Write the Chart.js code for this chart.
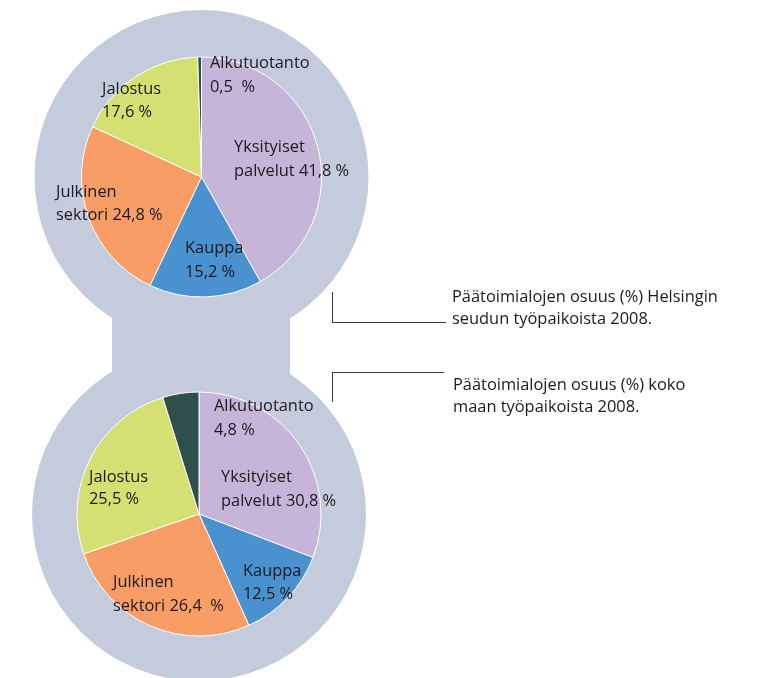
<!DOCTYPE html>
<html lang="fi">
<head>
<meta charset="utf-8">
<title>Päätoimialojen osuus työpaikoista 2008</title>
<script src="https://cdn.jsdelivr.net/npm/chart.js@4.4.1/dist/chart.umd.min.js"></script>
<style>
  html, body { margin: 0; padding: 0; background: #fff; }
  #wrap { position: relative; width: 757px; height: 678px; overflow: hidden; font-family: "Open Sans", sans-serif; color: #1d1a1b; }
  #wrap canvas { position: absolute; left: 0; top: 0; }
  .caption { position: absolute; font-size: 16.4px; line-height: 22px; white-space: nowrap; }
  .ln { position: absolute; background: #3c3c3c; }
</style>
</head>
<body>
<div id="wrap">
  <canvas id="pie-helsinki" width="757" height="678"></canvas>
  <canvas id="pie-finland" width="757" height="678"></canvas>
  <div class="ln" style="left:332px; top:292px; width:1px; height:31px;"></div>
  <div class="ln" style="left:332px; top:322px; width:114px; height:1px;"></div>
  <div class="caption" id="cap-helsinki" style="left:452px; top:285px;"></div>
  <div class="ln" style="left:332px; top:372px; width:112px; height:1px;"></div>
  <div class="ln" style="left:332px; top:372px; width:1px; height:30px;"></div>
  <div class="caption" id="cap-finland" style="left:453px; top:373px;"></div>
</div>
<script>
// data
const categories = ["Yksityiset palvelut", "Kauppa", "Julkinen sektori", "Jalostus", "Alkutuotanto"];
const helsinkiShares = [41.8, 15.2, 24.8, 17.6, 0.5];
const finlandShares = [30.8, 12.5, 26.4, 25.5, 4.8];
const captionHelsinki = ["Päätoimialojen osuus (%) Helsingin", "seudun työpaikoista 2008."];
const captionFinland = ["Päätoimialojen osuus (%) koko", "maan työpaikoista 2008."];

// styles / layout
const sliceColors = ["#c6b5d9", "#4a91cf", "#f79d65", "#d5e072", "#2f4f4c"];
const ringColor = "#c4cbdd";
const W = 757, H = 678;
const BW = 1;
const topPie = { cx: 201.5, cy: 177, r: 120 };
const bottomPie = { cx: 199, cy: 514, r: 122 };
const ringR = 167;
const bridge = { x0: 112, x1: 290 };
const FONT = '16.4px "Open Sans", sans-serif';

// label placement relative to pie centre: [dx, baseline dy, line gap]
const topLabelPos = [[32.5, -25, 24], [-16.5, 76, 24], [-145.5, 20, 22.5], [-99.5, -83, 23], [8.5, -109, 24]];
const bottomLabelPos = [[22, -32, 24], [44, 62, 23], [-86, 73, 24], [-110, -32, 22], [15, -103, 24]];
const topPctGap = [" ", " ", " ", " ", "  "];
const bottomPctGap = [" ", " ", "  ", " ", " "];

document.getElementById("cap-helsinki").innerHTML = captionHelsinki.join("<br>");
document.getElementById("cap-finland").innerHTML = captionFinland.join("<br>");

function labelLines(cat, val, gap) {
  const words = cat.split(" ");
  const pct = val.toFixed(1).replace(".", ",") + gap + "%";
  const rest = words.slice(1).join(" ");
  return [words[0], rest ? rest + " " + pct : pct];
}

function padFor(p) {
  const side = 2 * p.r + BW;
  const left = p.cx - side / 2;
  const top = p.cy - side / 2;
  return { left: left, top: top, right: W - left - side, bottom: H - top - side };
}

const backdrop = {
  id: "backdrop",
  beforeDraw(chart) {
    const ctx = chart.ctx;
    ctx.save();
    ctx.fillStyle = ringColor;
    ctx.beginPath();
    ctx.arc(topPie.cx, topPie.cy, ringR, 0, Math.PI * 2);
    ctx.fill();
    ctx.beginPath();
    ctx.arc(bottomPie.cx, bottomPie.cy, ringR, 0, Math.PI * 2);
    ctx.fill();
    ctx.fillRect(bridge.x0, topPie.cy, bridge.x1 - bridge.x0, bottomPie.cy - topPie.cy);
    ctx.restore();
  }
};

const sliceLabels = {
  id: "sliceLabels",
  afterDatasetsDraw(chart, args, opts) {
    const arcs = chart.getDatasetMeta(0).data;
    const values = chart.data.datasets[0].data;
    const cx = arcs[0].x, cy = arcs[0].y;
    const ctx = chart.ctx;
    ctx.save();
    ctx.font = FONT;
    ctx.fillStyle = "#1d1a1b";
    ctx.textAlign = "left";
    ctx.textBaseline = "alphabetic";
    opts.pos.forEach((o, i) => {
      const lines = labelLines(categories[i], values[i], opts.gaps[i]);
      ctx.fillText(lines[0], cx + o[0], cy + o[1]);
      ctx.fillText(lines[1], cx + o[0], cy + o[1] + o[2]);
    });
    ctx.restore();
  }
};

function makePie(id, values, pie, labelPos, gaps, extra) {
  return new Chart(document.getElementById(id), {
    type: "pie",
    data: {
      labels: categories,
      datasets: [{
        data: values,
        backgroundColor: sliceColors,
        borderColor: "#ffffff",
        borderWidth: BW,
        hoverOffset: 0,
        offset: 0,
      }],
    },
    options: {
      responsive: false,
      animation: false,
      events: [],
      rotation: 0,
      layout: { padding: padFor(pie) },
      plugins: {
        legend: { display: false },
        tooltip: { enabled: false },
        sliceLabels: { pos: labelPos, gaps: gaps },
      },
    },
    plugins: extra.concat([sliceLabels]),
  });
}

makePie("pie-helsinki", helsinkiShares, topPie, topLabelPos, topPctGap, [backdrop]);
makePie("pie-finland", finlandShares, bottomPie, bottomLabelPos, bottomPctGap, []);
</script>
</body>
</html>
